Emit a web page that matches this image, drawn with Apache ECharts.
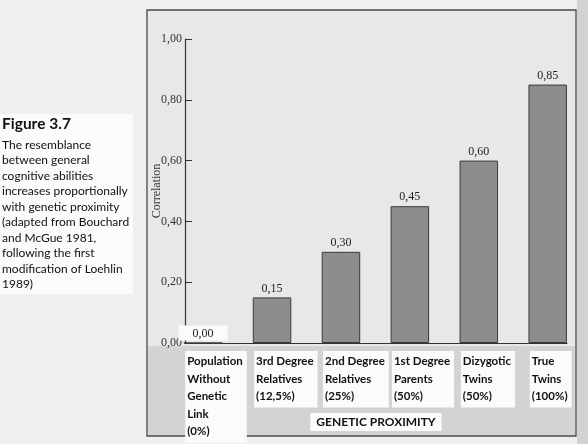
<!DOCTYPE html>
<html>
<head>
<meta charset="utf-8">
<script src="https://cdn.jsdelivr.net/npm/echarts@6/dist/echarts.min.js"></script>
<style>
html,body{margin:0;padding:0;background:#efefed;}
#c{width:588px;height:444px;}
</style>
</head>
<body>
<div id="c"></div>
<script>
var categories = [
  "Population\nWithout\nGenetic\nLink\n(0%)",
  "3rd Degree\nRelatives\n(12,5%)",
  "2nd Degree\nRelatives\n(25%)",
  "1st Degree\nParents\n(50%)",
  "Dizygotic\nTwins\n(50%)",
  "True\nTwins\n(100%)"
];
var correlations = [0.00, 0.15, 0.30, 0.45, 0.60, 0.85];
var yTicks = [0, 0.2, 0.4, 0.6, 0.8, 1.0];
var captionTitle = "Figure 3.7";
var captionLines = [
  "The resemblance",
  "between general",
  "cognitive abilities",
  "increases proportionally",
  "with genetic proximity",
  "(adapted from Bouchard",
  "and McGue 1981,",
  "following the first",
  "modification of Loehlin",
  "1989)"
];
var xName = "GENETIC PROXIMITY";
var yName = "Correlation";

function fmt(v){ return v.toFixed(2).replace('.', ','); }

var LABEL_SHIFT = 0.26;
var chart = echarts.init(document.getElementById('c'), null, {renderer:'canvas'});
var serif = '"Liberation Serif","DejaVu Serif",serif';
var sans = 'Lato,"Open Sans",sans-serif';

var barData = correlations.map(function(v,i){
  var item = {value:[i, v]};
  if (v === 0) {
    item.label = {backgroundColor:'#fbfbfb', padding:[2,14,1,14], distance:2};
  }
  return item;
});

chart.setOption({
  backgroundColor:'#efefed',
  animation:false,
  graphic:[
    {type:'rect', z:-10, silent:true, shape:{x:577, y:0, width:11, height:444}, style:{fill:'#d2d2d0'}},
    {type:'rect', z:-9, silent:true, shape:{x:147, y:10, width:429, height:426}, style:{fill:'#e8e8e6', stroke:'#4a4a4a', lineWidth:1.3}},
    {type:'rect', z:-8, silent:true, shape:{x:148, y:346, width:427, height:89}, style:{fill:'#d3d3d1'}},
    {type:'rect', z:-8, silent:true, shape:{x:0, y:114, width:133, height:180}, style:{fill:'#fbfbfb'}},
    {type:'text', left:2, top:116, style:{text:captionTitle, font:'bold 15.5px ' + sans, fill:'#111'}},
    {type:'text', left:2, top:137, style:{text:captionLines.join('\n'), font:'12px ' + sans, lineHeight:15.5, fill:'#111'}}
  ],
  grid:{left:185, right:21, top:39, bottom:101, containLabel:false, outerBoundsMode:'none'},
  xAxis:{
    type:'value',
    min:-0.263, max:5.28,
    name:xName,
    nameLocation:'middle',
    nameGap:70,
    nameMoveOverlap:false,
    nameTextStyle:{fontFamily:sans, fontWeight:'bold', fontSize:12, color:'#111', backgroundColor:'#fbfbfb', padding:[3,6,3,6]},
    axisLine:{show:true, lineStyle:{color:'#333', width:1.2}},
    axisTick:{show:false},
    splitLine:{show:false},
    axisLabel:{
      customValues: categories.map(function(_, i){ return i - LABEL_SHIFT; }),
      formatter:function(v){ return categories[Math.round(v + LABEL_SHIFT)]; },
      align:'left',
      margin:8,
      fontFamily:sans, fontWeight:'bold', fontSize:11.5, lineHeight:17.5, color:'#111',
      backgroundColor:'#fbfbfb', padding:[2,4,2,2]
    }
  },
  yAxis:{
    type:'value',
    min:0, max:1, interval:0.2,
    name:yName,
    nameLocation:'middle',
    nameGap:22,
    nameMoveOverlap:false,
    nameTextStyle:{fontFamily:serif, fontSize:12, color:'#333'},
    axisLine:{show:true, onZero:false, lineStyle:{color:'#333', width:1.2}},
    axisTick:{show:true, inside:true, length:7, lineStyle:{color:'#333'}},
    splitLine:{show:false},
    axisLabel:{
      customValues: yTicks,
      formatter:function(v){ return fmt(v); },
      margin:3, fontFamily:serif, fontSize:12, color:'#333'
    }
  },
  series:[{
    type:'bar',
    data:barData,
    barWidth:38.5,
    itemStyle:{color:'#8d8d8b', borderColor:'#3a3a3a', borderWidth:1},
    label:{show:true, position:'top', distance:3, fontFamily:serif, fontSize:12, color:'#222',
      formatter:function(p){ return fmt(p.value[1]); }}
  }]
});
</script>
</body>
</html>
